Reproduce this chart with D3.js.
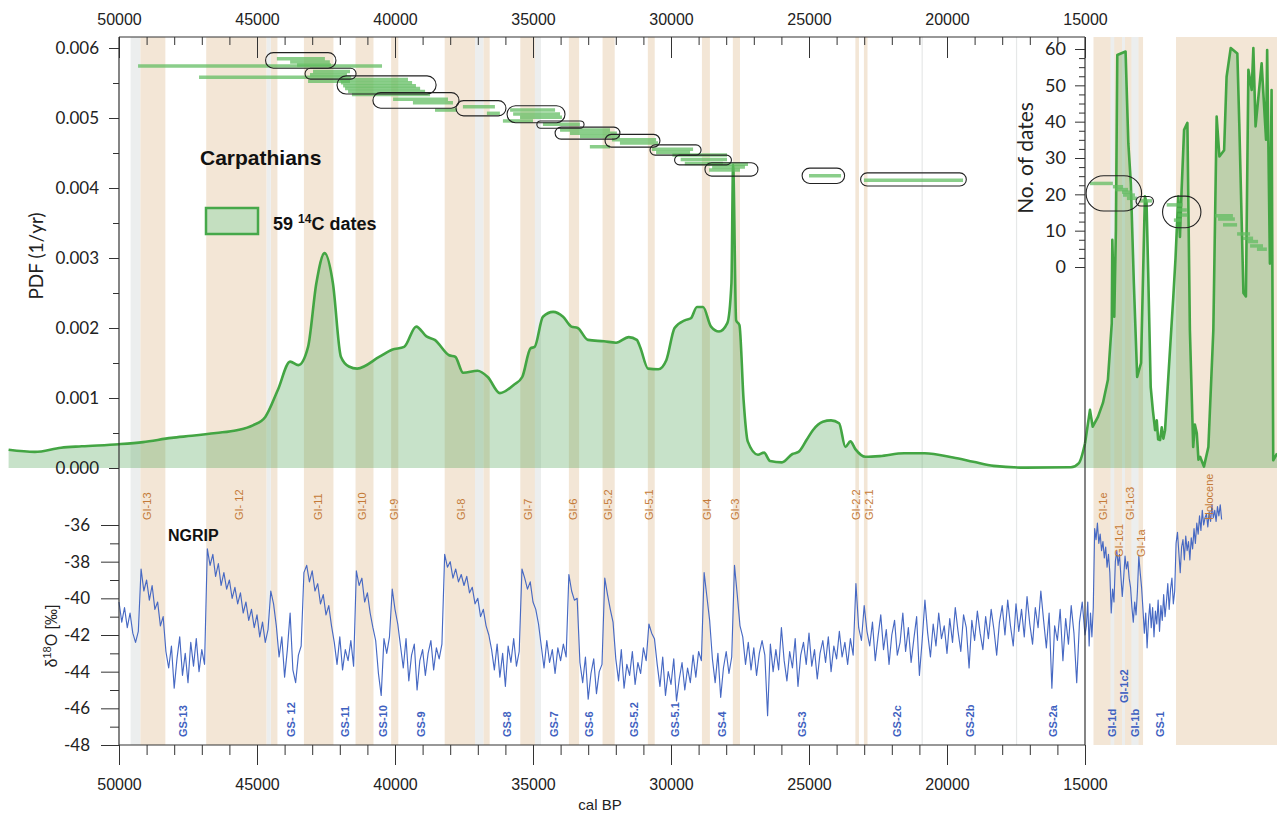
<!DOCTYPE html>
<html>
<head>
<meta charset="utf-8">
<script src="https://cdn.jsdelivr.net/npm/d3@7"></script>
<style>
  body { margin: 0; background: #fff; }
  svg { display: block; }
</style>
</head>
<body>
<svg id="chart" width="1277" height="813"></svg>
<script>
// ---- data (ages in cal BP) ----
// summed probability of the 59 14C dates, [age, 1/yr]
const pdfMain = [
  [54000,0.00026],[53050,0.00023],[52100,0.00029],[51350,0.00031],[50000,0.00034],[49130,0.00037],
  [48100,0.00043],[47360,0.00046],[46480,0.0005],[45730,0.00054],[45150,0.00061],[44700,0.00073],
  [44250,0.00111],[43800,0.00152],[43500,0.00147],[43150,0.00173],[42850,0.00264],[42550,0.00307],
  [42250,0.00264],[41960,0.00159],[41670,0.00145],[41370,0.00142],[40560,0.00159],[40110,0.00169],
  [39670,0.00173],[39230,0.00202],[38860,0.00188],[38560,0.00183],[38040,0.00161],[37820,0.00159],
  [37530,0.00136],[37010,0.00139],[36640,0.0013],[36200,0.00107],[35690,0.00119],[35390,0.0013],
  [35090,0.00171],[34940,0.00173],[34640,0.00216],[34270,0.00223],[33910,0.00216],[33610,0.00202],
  [33380,0.002],[33010,0.00183],[32430,0.00181],[31990,0.00179],[31530,0.00187],[31240,0.00183],
  [31120,0.00173],[30830,0.00142],[30460,0.00141],[30170,0.00154],[29870,0.002],[29500,0.00211],
  [29280,0.00214],[29060,0.0023],[28840,0.0023],[28550,0.00202],[28260,0.00195],[27960,0.00207],
  [27810,0.00264],[27750,0.00433],[27640,0.00211],[27520,0.00204],[27370,0.00097],[27220,0.00038],
  [26850,0.00019],[26630,0.00022],[26410,0.0001],[25980,0.00008],[25600,0.0002],[25380,0.00023],
  [25090,0.0004],[24860,0.00054],[24500,0.00066],[24200,0.00068],[23910,0.00064],[23680,0.0003],
  [23500,0.00038],[23320,0.00027],[22950,0.00016],[22430,0.00017],[21550,0.00021],[20810,0.00021],
  [19780,0.00015],[19050,0.00009],[18310,0.00003],[17140,0.000005],[15510,0.00001],[15220,0.00007],
  [15000,0.00035]
];
const pdfLate = [
  [15000,0.00035],[14820,0.00083],[14720,0.00059],[14530,0.00073],[14350,0.00093],[14170,0.00126],
  [14030,0.00207],[14010,0.00326],[13940,0.00216],[13880,0.0034],[13830,0.0059],[13530,0.00595],
  [13430,0.00464],[13340,0.00407],[13230,0.00264],[13110,0.0013],[12970,0.0015],[12830,0.00388],
  [12770,0.00379],[12710,0.00279],[12620,0.00116],[12540,0.00082],[12460,0.00054],[12400,0.00068],
  [12350,0.00041],[12280,0.0004],[12220,0.00058],[12160,0.00042],[12100,0.00054],
  [11950,0.0015],[11800,0.00245],[11720,0.00300],[11620,0.00388],[11560,0.00330],[11500,0.00397],
  [11410,0.00483],[11290,0.00493],[11200,0.00197],[11080,0.0003],[11020,0.00062],[10950,0.0005],
  [10890,0.00012],[10830,0.00016],[10690,0.00002],[10530,0.0003],
  [10350,0.00197],[10230,0.00502],[10130,0.00445],[9960,0.00454],[9870,0.00559],[9720,0.006],
  [9480,0.00592],[9410,0.00492],[9260,0.0025],[9170,0.00245],[9080,0.00569],[8960,0.0054],
  [8900,0.006],[8820,0.00488],[8600,0.00578],[8440,0.00469],[8400,0.00597],[8300,0.00292],
  [8240,0.0054],[8180,0.00011],[8040,0.00021]
];

// individual dates: [older, younger, rank on "No. of dates"]
const dateRanges = [
  [49310,40470,55.3],[47100,41590,52.2],[44280,42540,57.3],[43800,42360,56.4],[43550,42320,55.6],
  [42970,41630,53.8],[43080,41740,52.9],[43150,41630,51.1],[41990,39530,51.6],[41960,39380,50.7],
  [41880,39240,49.9],[41810,39090,49.1],[41700,38910,48.3],[41560,38730,47.5],[40070,38080,46.2],
  [39350,37900,45.2],[38550,37750,43.2],[37540,36380,44.1],[36670,36200,42.3],[35830,34200,43.2],
  [35720,34020,42.1],[35470,33950,41.2],[36090,35000,40.2],[34640,33300,39.3],[34020,32210,37.7],
  [33660,31960,36.8],[33300,31850,35.9],[32940,32210,33.1],[32140,30540,35.0],[31850,30470,34.1],
  [30690,29200,32.4],[30540,29310,31.5],[29950,27970,30.8],[29650,27970,29.6],[29500,28120,28.5],
  [28700,27210,28.3],[28510,27320,27.5],[28620,27500,26.7],[25000,23840,25.1],[23010,19420,23.9],
  [14820,13990,23.0],[13990,13620,22.1],[13910,13440,21.3],[13660,13300,20.6],[13620,13190,19.8],
  [13480,13120,18.9],[13010,12570,18.2],[12040,11460,17.1],[11670,11310,15.7],[11640,11280,14.3],
  [11780,11490,12.9],[10290,9640,14.1],[10180,9570,13.2],[10000,9490,11.6],[9490,9020,9.1],
  [9280,8910,7.9],[9130,8730,7.0],[9020,8550,5.8],[8770,8410,4.9]
];
// groups of dates: [older, younger, rank top, rank bottom]
const dateGroups = [
  [44690,42140,59.0,54.7],[43260,41410,54.7,51.7],[42100,38510,52.6,47.6],[40800,37680,48.0,43.7],
  [37790,35980,45.8,41.6],[35940,33840,44.4,39.7],[34860,33150,40.2,38.2],[34200,31850,38.5,35.2],
  [32390,30400,36.5,33.0],[30760,28910,33.6,30.8],[29870,27810,30.8,28.1],[28770,26850,28.7,25.0],
  [25250,23710,27.2,23.0],[23130,19300,25.9,22.3],[14960,12950,25.1,15.4],[13150,12520,19.4,16.8],
  [12190,10800,19.5,10.8]
];

// NGRIP d18O, segments: [first age, step (yr), values]
const ngripSegments = [
  [50000,100,[-40.2,-41.3,-40.5,-41.6,-40.8,-41.9,-42.4,-41.8]],
  [49200,100,[-38.4,-39.6,-39.0,-40.1,-39.3,-40.6,-40.2,-41.5,-41.0]],
  [48300,100,[-42.9,-43.8,-42.6,-44.9,-43.3,-42.1,-44.2,-43.0,-44.6,-42.4,-43.7,-42.2,-44.0,-42.8,-43.6]],
  [46800,100,[-37.3,-38.2,-37.6,-38.8,-38.1,-39.3,-38.6,-39.5,-39.0,-40.0,-39.4,-40.3,-39.7,-40.8,
              -40.2,-41.2,-40.6,-41.6,-40.9,-42.1,-41.3,-42.4,-41.7,-39.6,-40.3,-41.5]],
  [44200,100,[-43.2,-42.1,-44.3,-42.8,-40.8,-43.9,-44.6,-43.1,-42.6]],
  [43300,100,[-38.6,-38.2,-39.1,-38.5,-39.6,-39.2,-40.3,-39.8,-40.9,-40.4,-41.5]],
  [42200,100,[-42.4,-43.6,-42.1,-43.9,-42.8,-43.4,-42.3,-43.7]],
  [41400,100,[-38.5,-39.3,-38.9,-40.2,-39.7,-40.8,-41.6]],
  [40700,100,[-42.3,-44.1,-45.3,-42.2,-43.0,-42.1]],
  [40100,100,[-39.5,-40.6,-41.4]],
  [39800,100,[-42.6,-43.8,-42.2,-44.5,-43.1,-42.5,-45.0,-43.4,-42.8,-44.2,-43.0,-42.3,-43.9,-42.7,-43.3,-42.5]],
  [38200,100,[-37.6,-38.3,-38.0,-38.9,-38.4,-39.1,-38.7,-39.3,-38.8,-39.7,-39.4,-40.3,-40.0,-41.0,-40.6,-41.5,-42.0]],
  [36500,100,[-42.8,-43.9,-42.5,-44.3,-43.0,-44.8,-42.6,-43.5,-42.2,-43.7,-42.9]],
  [35400,100,[-38.4,-38.9,-39.5,-39.1,-40.2,-40.6,-41.4]],
  [34700,100,[-42.6,-43.8,-42.3,-43.5,-42.8,-44.1,-42.7,-43.4,-42.5,-43.2]],
  [33700,100,[-38.7,-39.6,-40.1,-40.0]],
  [33300,100,[-43.5,-44.6,-43.2,-45.5,-44.1,-43.3,-45.2,-44.0,-43.6]],
  [32400,100,[-38.9,-39.8,-40.6,-41.3]],
  [32000,100,[-43.3,-44.5,-42.8,-44.9,-43.6,-44.2,-42.9,-44.7,-43.5,-44.1,-42.7,-43.4]],
  [30800,100,[-41.4,-41.9,-42.2]],
  [30500,100,[-43.6,-44.8,-43.2,-45.3,-44.0,-44.7,-43.3,-45.6,-44.4,-43.5,-45.0,-43.8,-44.6,-43.1,-44.3,-42.9,-43.4]],
  [28800,100,[-38.6,-39.9,-41.2]],
  [28500,100,[-43.3,-44.6,-43.0,-45.4,-43.8,-42.9,-44.1,-43.2]],
  [27700,100,[-38.2,-39.8,-41.5]],
  [27400,100,[-42.1,-43.6,-42.4,-43.9,-42.7,-44.2,-43.0,-42.3,-43.1,-46.4,
              -42.5,-44.0,-42.8,-43.9,-41.6,-43.4,-44.5,-42.9,-43.8,-42.2,
              -44.8,-43.1,-42.4,-43.6,-41.9,-43.7,-42.8,-44.4,-43.0,-42.3,
              -43.5,-42.1,-44.0,-42.6,-43.3,-41.8,-43.2,-42.4,-43.6,-42.2,-43.1]],
  [23300,100,[-39.2,-41.6,-42.3,-40.4,-41.8]],
  [22800,100,[-42.6,-41.3,-43.4,-42.1,-40.9,-42.8,-41.7,-43.6,-42.0,-41.2,-43.1,-42.4,-40.8,-42.9,-41.6,-43.5,-42.2,-41.0,-44.2,-42.3,
              -40.1,-41.9,-43.2,-41.4,-42.6,-40.8,-42.2,-41.5,-43.0,-41.1,-42.4,-40.5,-41.8,-42.9,-40.9,-41.6,-43.8,-41.2,-42.3,-40.7,
              -41.9,-42.8,-41.0,-42.2,-40.6,-41.7,-43.1,-41.3,-40.4,-42.0,-40.1,-41.5,-42.6,-40.3,-41.8,-40.6,-42.1,-39.9,-41.4,-42.5,
              -40.5,-41.6,-39.6,-41.2,-42.7,-40.8,-44.9,-41.5,-42.3,-40.6,-43.4,-41.1,-42.5,-40.4,-41.9,-44.6,-41.3,-40.2,-42.0]],
  [14950,50,[-41.5,-40.2,-42.6,-40.8,-42.1,-40.5]],
  [14650,50,[-36.2,-36.8,-35.9,-37.0,-36.5,-37.4,-36.9,-37.8,-37.2,-38.3,-37.6,-38.6]],
  [14050,50,[-40.8,-39.5,-40.2]],
  [13900,50,[-38.0,-37.4,-38.2,-37.6,-38.8,-39.9,-38.9,-37.7,-38.4,-38.0,-38.9,-39.4]],
  [13300,50,[-40.5,-41.3,-40.2,-40.9,-39.6]],
  [13050,50,[-37.7,-38.6,-39.4]],
  [12900,50,[-40.6,-41.9,-40.8,-42.7,-41.2,-40.3,-41.6,-40.5,-42.1,-40.7,-41.4,-40.1,
             -41.8,-40.4,-41.2,-39.8,-41.0,-40.2,-39.2,-40.6,-39.5,-38.9,-40.3,-39.6]],
  [11700,50,[-37.0,-36.4,-37.5,-38.6,-37.2,-36.8,-37.9,-36.6,-37.4,-36.9,-37.9,-36.7,-37.3,-36.2,-37.0,-35.9,-36.5,
             -35.5,-36.3,-35.2,-36.0,-35.6,-35.4,-36.1,-35.3,-35.8,-34.9,-35.6,-35.2,-35.8,-35.0,-35.5,-34.9,-35.7]]
];

// Greenland event stratigraphy
const giBands = [
  [49230,48320],[46840,44650],[44500,44260],[43300,42230],[41430,40780],[40140,39880],
  [38200,37100],[36800,36570],[35460,34930],[33700,33330],[32480,32040],[30840,30590],
  [28880,28590],[27760,27500],[23320,23190],[23010,22880],[14692,12896],[11703,7000]
];
const greyBands = [[49580,49230],[44650,44500],[37100,36800],[34930,34710],[14075,13940],[13660,13550],[13320,13060]];
const greyLines = [20900,17480];

const giLabels = [
  ['GI-13',48990],['GI- 12',45650],['GI-11',42790],['GI-10',41200],['GI-9',40040],['GI-8',37610],
  ['GI-7',35180],['GI-6',33550],['GI-5.2',32280],['GI-5.1',30800],['GI-4',28700],['GI-3',27660],
  ['GI-2.2',23300],['GI-2.1',22830],['GI-1e',14330],['GI-1c1',13770],['GI-1c3',13370],['GI-1a',12970],
  ['Holocene',10510]
];
const giLowered = ['GI-1c1','GI-1a'];
const gsLabels = [
  ['GS-13',47660],['GS- 12',43770],['GS-11',41810],['GS-10',40440],['GS-9',39040],['GS-8',35940],
  ['GS-7',34240],['GS-6',32970],['GS-5.2',31340],['GS-5.1',29860],['GS-4',28130],['GS-3',25250],
  ['GS-2c',21810],['GS-2b',19170],['GS-2a',16170],['GI-1d',14000],['GI-1c2',13570],['GI-1b',13190],
  ['GS-1',12270]
];
const gsRaised = ['GI-1c2'];

const ageTicks = d3.range(50000, 14999, -5000);
const pdfTicks = [0, 0.001, 0.002, 0.003, 0.004, 0.005, 0.006];
const isoTicks = [-36, -38, -40, -42, -44, -46, -48];
const countTicks = [0, 10, 20, 30, 40, 50, 60];

// ---- layout ----
const plotTop = 37, plotBottom = 745, plotLeft = 119, plotRight = 1085;
const x = d3.scaleLinear().domain([50000, 15000]).range([plotLeft, plotRight]);
const yPdf = d3.scaleLinear().domain([0, 0.006]).range([468, 48]);
const yRank = d3.scaleLinear().domain([0, 60]).range([267, 49]);
const yIso = d3.scaleLinear().domain([-48, -36]).range([745, 525]);

const svg = d3.select('#chart');
const axisFont = 'Liberation Sans, Arial, sans-serif';
const tickFont = 'Lato, Open Sans, sans-serif';

// bands
svg.append('g').selectAll('rect').data(giBands).join('rect')
    .attr('x', d => x(d[0])).attr('width', d => x(d[1]) - x(d[0]))
    .attr('y', plotTop).attr('height', plotBottom - plotTop)
    .attr('fill', '#f3e6d6');
svg.append('g').selectAll('rect').data(greyBands).join('rect')
    .attr('x', d => x(d[0])).attr('width', d => x(d[1]) - x(d[0]))
    .attr('y', plotTop).attr('height', plotBottom - plotTop)
    .attr('fill', '#eceeee');
svg.append('g').selectAll('rect').data(greyLines).join('rect')
    .attr('x', d => x(d) - 0.6).attr('width', 1.2)
    .attr('y', plotTop).attr('height', plotBottom - plotTop)
    .attr('fill', '#e6e8e8');

// summed probability
const areaMain = d3.area().x(d => x(d[0])).y0(yPdf(0)).y1(d => yPdf(d[1])).curve(d3.curveMonotoneX);
const lineMain = d3.line().x(d => x(d[0])).y(d => yPdf(d[1])).curve(d3.curveMonotoneX);
const areaLate = d3.area().x(d => x(d[0])).y0(yPdf(0)).y1(d => yPdf(d[1]));
const lineLate = d3.line().x(d => x(d[0])).y(d => yPdf(d[1]));
const pdfG = svg.append('g');
pdfG.append('path').attr('d', areaMain(pdfMain)).attr('fill', '#46a04b').attr('fill-opacity', 0.3);
pdfG.append('path').attr('d', areaLate(pdfLate)).attr('fill', '#46a04b').attr('fill-opacity', 0.3);
pdfG.append('path').attr('d', lineMain(pdfMain)).attr('fill', 'none')
    .attr('stroke', '#43a543').attr('stroke-width', 2.6).attr('stroke-linejoin', 'round');
pdfG.append('path').attr('d', lineLate(pdfLate)).attr('fill', 'none')
    .attr('stroke', '#43a543').attr('stroke-width', 2.6).attr('stroke-linejoin', 'round');

// NGRIP
const ngrip = [];
ngripSegments.forEach(([start, step, vals]) => vals.forEach((v, i) => ngrip.push([start - i * step, v])));
svg.append('path')
    .attr('d', d3.line().x(d => x(d[0])).y(d => yIso(d[1]))(ngrip))
    .attr('fill', 'none').attr('stroke', '#4769c3').attr('stroke-width', 1.15).attr('stroke-linejoin', 'round');

// dates and groups
svg.append('g').selectAll('line').data(dateRanges).join('line')
    .attr('x1', d => x(d[0])).attr('x2', d => x(d[1]))
    .attr('y1', d => yRank(d[2])).attr('y2', d => yRank(d[2]))
    .attr('stroke', '#5dbb5d').attr('stroke-opacity', 0.72).attr('stroke-width', 3.5);
svg.append('g').selectAll('rect').data(dateGroups).join('rect')
    .attr('x', d => x(d[0])).attr('width', d => x(d[1]) - x(d[0]))
    .attr('y', d => yRank(d[2])).attr('height', d => yRank(d[3]) - yRank(d[2]))
    .attr('rx', d => (yRank(d[3]) - yRank(d[2])) / 2)
    .attr('fill', 'none').attr('stroke', '#222').attr('stroke-width', 1.1);

// event labels
const giG = svg.append('g').attr('font-family', axisFont).attr('font-size', 11).attr('fill', '#c47a37');
giG.selectAll('text').data(giLabels).join('text')
    .attr('transform', d => `translate(${x(d[1])},${giLowered.includes(d[0]) ? 557 : 520}) rotate(-90)`)
    .attr('dy', '0.35em').text(d => d[0]);
const gsG = svg.append('g').attr('font-family', axisFont).attr('font-size', 11)
    .attr('font-weight', 'bold').attr('fill', '#3f61c0');
gsG.selectAll('text').data(gsLabels).join('text')
    .attr('transform', d => `translate(${x(d[1])},${gsRaised.includes(d[0]) ? 703 : 737}) rotate(-90)`)
    .attr('dy', '0.35em').text(d => d[0]);

// axes
function styleAxis(g, font, size) {
    g.selectAll('text').attr('font-family', font).attr('font-size', size).attr('fill', '#222');
    g.selectAll('line').attr('stroke', '#333');
    g.select('.domain').remove();
}
const minorAges = d3.range(50000, 14999, -1000).filter(d => d % 5000);

svg.append('g').attr('transform', `translate(0,${plotTop})`)
    .call(d3.axisTop(x).tickValues(ageTicks).tickSizeInner(-21).tickSizeOuter(0).tickPadding(12).tickFormat(d3.format('d')))
    .call(g => styleAxis(g, axisFont, 16));
svg.append('g').attr('transform', `translate(0,${plotTop})`)
    .call(d3.axisTop(x).tickValues(minorAges).tickSizeInner(-8).tickSizeOuter(0).tickFormat(''))
    .call(g => styleAxis(g, axisFont, 16));
svg.append('g').attr('transform', `translate(0,${plotBottom})`)
    .call(d3.axisBottom(x).tickValues(ageTicks).tickSizeInner(20).tickSizeOuter(0).tickPadding(14).tickFormat(d3.format('d')))
    .call(g => styleAxis(g, axisFont, 16));
svg.append('g').attr('transform', `translate(0,${plotBottom})`)
    .call(d3.axisBottom(x).tickValues(minorAges).tickSizeInner(10).tickSizeOuter(0).tickFormat(''))
    .call(g => styleAxis(g, axisFont, 16));

svg.append('g').attr('transform', `translate(${plotLeft},0)`)
    .call(d3.axisLeft(yPdf).tickValues(pdfTicks).tickSize(10).tickPadding(10).tickFormat(d3.format('.3f')))
    .call(g => styleAxis(g, tickFont, 17));
svg.append('g').attr('transform', `translate(${plotLeft},0)`)
    .call(d3.axisLeft(yPdf).tickValues(pdfTicks.slice(1).map(d => d - 0.0005)).tickSize(6).tickFormat(''))
    .call(g => styleAxis(g, tickFont, 17));
svg.append('g').attr('transform', `translate(${plotLeft},0)`)
    .call(d3.axisLeft(yIso).tickValues(isoTicks).tickSize(18).tickPadding(11).tickFormat(d => String(d)))
    .call(g => styleAxis(g, tickFont, 17));
svg.append('g').attr('transform', `translate(${plotLeft},0)`)
    .call(d3.axisLeft(yIso).tickValues(isoTicks.slice(1).map(d => d + 1)).tickSize(9).tickFormat(''))
    .call(g => styleAxis(g, tickFont, 17));
svg.append('g').attr('transform', `translate(${plotRight},0)`)
    .call(d3.axisLeft(yRank).tickValues(countTicks).tickSize(10).tickPadding(9).tickFormat(d3.format('d')))
    .call(g => styleAxis(g, tickFont, 18));
svg.append('g').attr('transform', `translate(${plotRight},0)`)
    .call(d3.axisLeft(yRank).tickValues(d3.range(2.5, 60, 2.5).filter(d => d % 10)).tickSize(6).tickFormat(''))
    .call(g => styleAxis(g, tickFont, 18));

// frame
const frame = svg.append('g').attr('stroke', '#333').attr('stroke-width', 1.2);
frame.append('line').attr('x1', plotLeft).attr('x2', plotRight).attr('y1', plotTop).attr('y2', plotTop);
frame.append('line').attr('x1', plotLeft).attr('x2', plotRight).attr('y1', plotBottom).attr('y2', plotBottom);
frame.append('line').attr('x1', plotLeft).attr('x2', plotLeft).attr('y1', plotTop).attr('y2', plotBottom);
frame.append('line').attr('x1', plotRight).attr('x2', plotRight).attr('y1', plotTop).attr('y2', plotBottom);

// axis titles
svg.append('text').attr('transform', 'translate(43,256) rotate(-90)').attr('text-anchor', 'middle')
    .attr('font-family', tickFont).attr('font-size', 19).attr('fill', '#222').text('PDF (1/yr)');
svg.append('text').attr('transform', 'translate(1033,158) rotate(-90)').attr('text-anchor', 'middle')
    .attr('font-family', tickFont).attr('font-size', 21).attr('fill', '#222').text('No. of dates');
const isoTitle = svg.append('text').attr('transform', 'translate(57,636) rotate(-90)').attr('text-anchor', 'middle')
    .attr('font-family', axisFont).attr('font-size', 16).attr('fill', '#222');
isoTitle.append('tspan').text('δ');
isoTitle.append('tspan').attr('font-size', 11).attr('dy', -6).text('18');
isoTitle.append('tspan').attr('dy', 6).text('O [‰]');
svg.append('text').attr('x', 600).attr('y', 810).attr('text-anchor', 'middle')
    .attr('font-family', axisFont).attr('font-size', 15).attr('fill', '#222').text('cal BP');

// annotations and legend
svg.append('text').attr('x', 200).attr('y', 165)
    .attr('font-family', axisFont).attr('font-size', 21).attr('font-weight', 'bold').attr('fill', '#111')
    .text('Carpathians');
svg.append('rect').attr('x', 206).attr('y', 208).attr('width', 52).attr('height', 26)
    .attr('fill', '#c4dfc0').attr('stroke', '#46a84a').attr('stroke-width', 2.5);
const legText = svg.append('text').attr('x', 273).attr('y', 230)
    .attr('font-family', axisFont).attr('font-size', 18).attr('font-weight', 'bold').attr('fill', '#111');
legText.append('tspan').text('59 ');
legText.append('tspan').attr('font-size', 12).attr('dy', -7).text('14');
legText.append('tspan').attr('dy', 7).text('C dates');
svg.append('text').attr('x', 168).attr('y', 541)
    .attr('font-family', axisFont).attr('font-size', 16).attr('font-weight', 'bold').attr('fill', '#111')
    .text('NGRIP');
</script>
</body>
</html>
